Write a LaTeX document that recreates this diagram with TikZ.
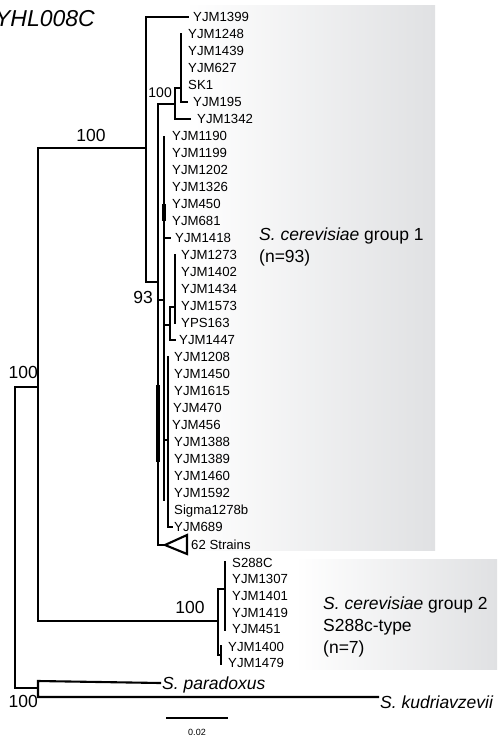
\documentclass[tikz,border=0pt]{standalone}
\usepackage{fontspec}
\setmainfont{Liberation Sans}
\definecolor{boxgrey}{RGB}{224,225,227}
\begin{document}
\begin{tikzpicture}[x=1pt,y=-1pt,
  br/.style={line width=2.1pt, line join=miter, line cap=rect},
  thk/.style={line width=3.2pt},
  leaf/.style={anchor=west, inner sep=0pt, text height=9.5pt, text depth=0pt, font=\fontsize{13.2}{15}\selectfont},
  big/.style={inner sep=0pt, text height=12.5pt, text depth=0pt, font=\fontsize{17.5}{21}\selectfont},
  smallboot/.style={inner sep=0pt, text height=10pt, text depth=0pt, font=\fontsize{14}{16}\selectfont},
  ttl/.style={inner sep=0pt, text height=16.5pt, text depth=0pt, font=\fontsize{23}{26}\selectfont\itshape},
  sc/.style={inner sep=0pt, text height=6.5pt, text depth=0pt, font=\fontsize{9}{10}\selectfont}]
\useasboundingbox (0,0) rectangle (501,738);

% shaded group boxes
\shade[left color=white, right color=boxgrey] (185,6) rectangle (435,550);
\shade[left color=white, right color=boxgrey] (295,559) rectangle (497,669);

% title
\node[ttl, anchor=east] (title) at (95,18) {YHL008C};

% internal node coordinates
\coordinate (root) at (15,387);
\coordinate (ing) at (38,148);
\coordinate (outg) at (38,681);
\coordinate (g1) at (146,17);
\coordinate (nA) at (158,104);
\coordinate (nB) at (175,88);
\coordinate (nB1) at (181,34);
\coordinate (nC) at (164,137);
\coordinate (nD) at (170,307);
\coordinate (nE) at (175,255);
\coordinate (nF) at (168,357);
\coordinate (nG) at (218,589);
\coordinate (nH) at (225,562);
\coordinate (nI) at (221,646);

% leaves group 1
\node[leaf] (l1399) at (193,17) {YJM1399};
\node[leaf] (l1248) at (188,34) {YJM1248};
\node[leaf] (l1439) at (188,51) {YJM1439};
\node[leaf] (l627) at (188,68) {YJM627};
\node[leaf] (sk1) at (188,85) {SK1};
\node[leaf] (l195) at (193,102) {YJM195};
\node[leaf] (l1342) at (197,119) {YJM1342};
\node[leaf] (l1190) at (172,136) {YJM1190};
\node[leaf] (l1199) at (172,153) {YJM1199};
\node[leaf] (l1202) at (172,170) {YJM1202};
\node[leaf] (l1326) at (172,187) {YJM1326};
\node[leaf] (l450) at (172,204) {YJM450};
\node[leaf] (l681) at (172,221) {YJM681};
\node[leaf] (l1418) at (175,238) {YJM1418};
\node[leaf] (l1273) at (181,255) {YJM1273};
\node[leaf] (l1402) at (181,272) {YJM1402};
\node[leaf] (l1434) at (181,289) {YJM1434};
\node[leaf] (l1573) at (181,306) {YJM1573};
\node[leaf] (yps) at (181,323) {YPS163};
\node[leaf] (l1447) at (179,340) {YJM1447};
\node[leaf] (l1208) at (174,357) {YJM1208};
\node[leaf] (l1450) at (174,374) {YJM1450};
\node[leaf] (l1615) at (174,391) {YJM1615};
\node[leaf] (l470) at (173,408) {YJM470};
\node[leaf] (l456) at (172,425) {YJM456};
\node[leaf] (l1388) at (174,442) {YJM1388};
\node[leaf] (l1389) at (174,459) {YJM1389};
\node[leaf] (l1460) at (174,476) {YJM1460};
\node[leaf] (l1592) at (174,493) {YJM1592};
\node[leaf] (sigma) at (174,510) {Sigma1278b};
\node[leaf] (l689) at (174,527) {YJM689};
\node[leaf] (s62) at (191,545) {62 Strains};

% leaves group 2
\node[leaf] (s288) at (232,563) {S288C};
\node[leaf] (l1307) at (232,579) {YJM1307};
\node[leaf] (l1401) at (232,596) {YJM1401};
\node[leaf] (l1419) at (232,613) {YJM1419};
\node[leaf] (l451) at (232,629) {YJM451};
\node[leaf] (l1400) at (228,647) {YJM1400};
\node[leaf] (l1479) at (228,663) {YJM1479};

% outgroups
\node[big, anchor=west] (para) at (162,683) {\itshape S. paradoxus};
\node[big, anchor=west] (kud) at (380,702) {\itshape S. kudriavzevii};

% group labels
\node[big, anchor=west] (g1a) at (259,234) {\textit{S. cerevisiae} group 1};
\node[big, anchor=west] (g1b) at (259,256) {(n=93)};
\node[big, anchor=west] (g2a) at (323,603) {\textit{S. cerevisiae} group 2};
\node[big, anchor=west] (g2b) at (323,625) {S288c-type};
\node[big, anchor=west] (g2c) at (323,647) {(n=7)};

% bootstrap values
\node[big, anchor=center] (b1) at (91,135) {100};
\node[big, anchor=east] (b2) at (38,372) {100};
\node[big, anchor=east] (b3) at (38,701) {100};
\node[big, anchor=east] (b4) at (153,297) {93};
\node[smallboot, anchor=east] (b5) at (172,93) {100};
\node[big, anchor=center] (b6) at (190,607) {100};

% ---- branches ----
% root
\draw[br] (ing |- root) -- (root) -- (15,688) -- (outg |- 0,688);
% ingroup node
\draw[br] (g1 |- ing) -- (ing) -- (38,621) -- (nG |- 0,621);
% outgroup node
\draw[br] ([xshift=-2pt]para.west) -- (outg) -- (38,697) -- ([xshift=-2pt]kud.west |- 0,697);
% group 1 main node
\draw[br] ([xshift=-5pt]l1399.west) -- (g1) -- (146,282) -- (nA |- 0,282);
% node A
\draw[br] (nB |- nA) -- (nA) -- (158,545) -- (165,545);
\draw[thk] (158,385) -- (158,462);
% collapsed clade
\draw[br] (165,545) -- (187,535) -- (187,554) -- cycle;
% node B
\draw[br] (nB1 |- nB) -- (nB) -- (175,119) -- ([xshift=-7pt]l1342.west);
% node B1
\draw[br] (nB1) -- (181,102) -- ([xshift=-6pt]l195.west);
% node C
\draw[br] (nA |- 0,300) -- (nC |- 0,300);
\draw[br] (nC) -- (164,500);
\draw[thk] (164,204) -- (164,221);
\draw[br] (164,238) -- ([xshift=-5pt]l1418.west);
% node D and E
\draw[br] (164,325) -- (170,325);
\draw[br] (nE |- nD) -- (nD) -- (170,340) -- ([xshift=-4pt]l1447.west);
\draw[br] (nE) -- (175,323);
% node F
\draw[br] (164,440) -- (168,440);
\draw[br] (nF) -- (168,527) -- ([xshift=-2pt]l689.west);
% group 2
\draw[br] (nH |- nG) -- (nG) -- (218,655) -- (221,655);
\draw[br] (nH) -- (225,630);
\draw[br] (nI) -- (221,664);

% scale bar
\coordinate (sbl) at (167,718);
\coordinate (sbr) at (227,718);
\draw[br] (sbl) -- (sbr);
\node[sc] (sbt) at (197,732) {0.02};
\end{tikzpicture}
\end{document}
